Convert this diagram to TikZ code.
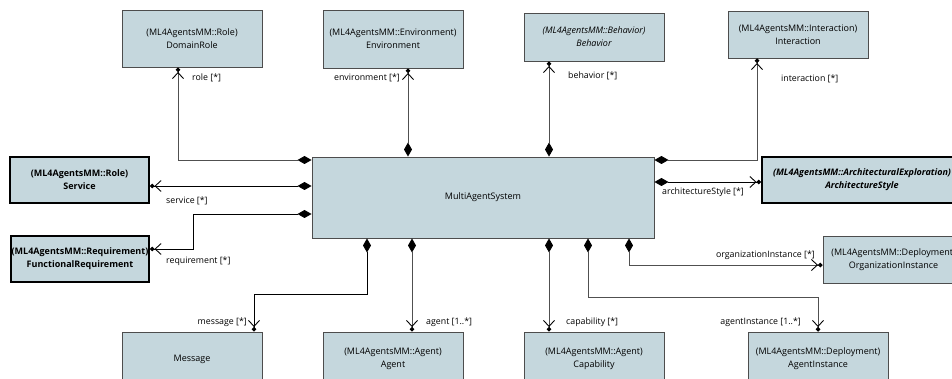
\documentclass[tikz,border=0pt]{standalone}
\usepackage{fontspec}
\setmainfont{Open Sans}
\usetikzlibrary{arrows.meta}
\definecolor{classFill}{HTML}{C5D7DD}
\definecolor{classLine}{HTML}{4D4D4D}
\definecolor{linkGray}{HTML}{505050}
\tikzset{ownerEnd/.tip={Diamond[length=14pt,width=8pt,color=black]}}
\tikzset{navEnd/.tip={Straight Barb[length=6pt,width=11pt,line width=0.9pt,color=black] Circle[length=4.5pt,color=black]}}
\tikzset{umlClass/.style={rectangle, fill=classFill, draw=classLine, line width=0.9pt, minimum width=140pt, align=center, inner sep=0pt, font=\fontsize{9}{13}\selectfont}}
\tikzset{keyClass/.style={umlClass, draw=black, line width=2pt, font=\fontsize{9}{13}\selectfont\bfseries}}
\tikzset{composition/.style={line width=0.9pt, ownerEnd-navEnd}}
\tikzset{endLabel/.style={inner sep=0pt, font=\fontsize{8.8}{10}\selectfont}}

\begin{document}
\begin{tikzpicture}[x=1pt,y=-1pt]
\useasboundingbox (0,0) rectangle (952,379);
\clip (0,0) rectangle (952,379);

% classes
\node[umlClass, minimum width=342pt, minimum height=81pt] (mas) at (483,197.5) {MultiAgentSystem};
\node[umlClass, minimum height=57pt] (role) at (192,38.5) {(ML4AgentsMM::Role)\\DomainRole};
\node[umlClass, minimum height=58pt] (env) at (393,39) {(ML4AgentsMM::Environment)\\Environment};
\node[umlClass, minimum height=48pt, font=\fontsize{9}{13}\selectfont\itshape] (behav) at (594,37) {(ML4AgentsMM::Behavior)\\Behavior};
\node[umlClass, minimum height=47pt] (inter) at (798,34.5) {(ML4AgentsMM::Interaction)\\Interaction};
\node[keyClass, minimum width=139pt, minimum height=46pt] (service) at (79.5,180) {(ML4AgentsMM::Role)\\Service};
\node[keyClass, minimum width=138pt, minimum height=46pt] (funcReq) at (80,259) {(ML4AgentsMM::Requirement)\\FunctionalRequirement};
\node[keyClass, minimum width=200pt, minimum height=46pt, font=\fontsize{9}{13}\selectfont\bfseries\itshape] (archStyle) at (862,180) {(ML4AgentsMM::ArchitecturalExploration)\\ArchitectureStyle};
\node[umlClass, minimum width=141pt, minimum height=47pt] (orgInst) at (893.5,259.5) {(ML4AgentsMM::Deployment)\\OrganizationInstance};
\node[umlClass, minimum height=54pt] (message) at (192,359) {Message};
\node[umlClass, minimum height=54pt] (agent) at (393,359) {(ML4AgentsMM::Agent)\\Agent};
\node[umlClass, minimum height=54pt] (capab) at (594,359) {(ML4AgentsMM::Agent)\\Capability};
\node[umlClass, minimum height=54pt] (agentInst) at (818,359) {(ML4AgentsMM::Deployment)\\AgentInstance};

% upper compositions
\draw[composition, draw=linkGray] (mas.west |- 0,160) -| (role.south -| 178,0);
\draw[composition, draw=linkGray] (mas.north -| 408,0) -- (env.south -| 408,0);
\draw[composition, draw=linkGray] (mas.north -| 549,0) -- (behav.south -| 549,0);
\draw[composition, draw=linkGray] (mas.east |- 0,160) -| (inter.south -| 757,0);

% side compositions
\draw[composition] (mas.west |- 0,186) -- (service.east |- 0,186);
\draw[composition] (mas.west |- 0,214) -- ++(-118,0) |- (funcReq.east |- 0,249);
\draw[composition] (mas.east |- 0,182) -- (archStyle.west |- 0,182);
\draw[composition, draw=linkGray] (mas.south -| 629,0) |- (orgInst.west |- 0,265);

% lower compositions
\draw[composition] (mas.south -| 367,0) -- ++(0,56) -| (message.north -| 254,0);
\draw[composition, draw=linkGray] (mas.south -| 412,0) -- (agent.north -| 412,0);
\draw[composition, draw=linkGray] (mas.south -| 549,0) -- (capab.north -| 549,0);
\draw[composition, draw=linkGray] (mas.south -| 588,0) -- ++(0,59) -| (agentInst.north -| 818,0);

% role names
\node[endLabel, anchor=west] (lRole) at (192,78) {role [*]};
\node[endLabel, anchor=east] (lEnv) at (400,78) {environment [*]};
\node[endLabel, anchor=west] (lBehav) at (568,76) {behavior [*]};
\node[endLabel, anchor=west] (lInter) at (781,79) {interaction [*]};
\node[endLabel, anchor=west] (lService) at (166,201) {service [*]};
\node[endLabel, anchor=west] (lReq) at (166,261) {requirement [*]};
\node[endLabel, anchor=west] (lArch) at (662,192) {architectureStyle [*]};
\node[endLabel, anchor=east] (lOrg) at (815,255) {organizationInstance [*]};
\node[endLabel, anchor=east] (lMsg) at (247,322) {message [*]};
\node[endLabel, anchor=west] (lAgent) at (426,322) {agent [1..*]};
\node[endLabel, anchor=west] (lCapab) at (566,322) {capability [*]};
\node[endLabel, anchor=east] (lAgInst) at (801,322) {agentInstance [1..*]};
\end{tikzpicture}
\end{document}
